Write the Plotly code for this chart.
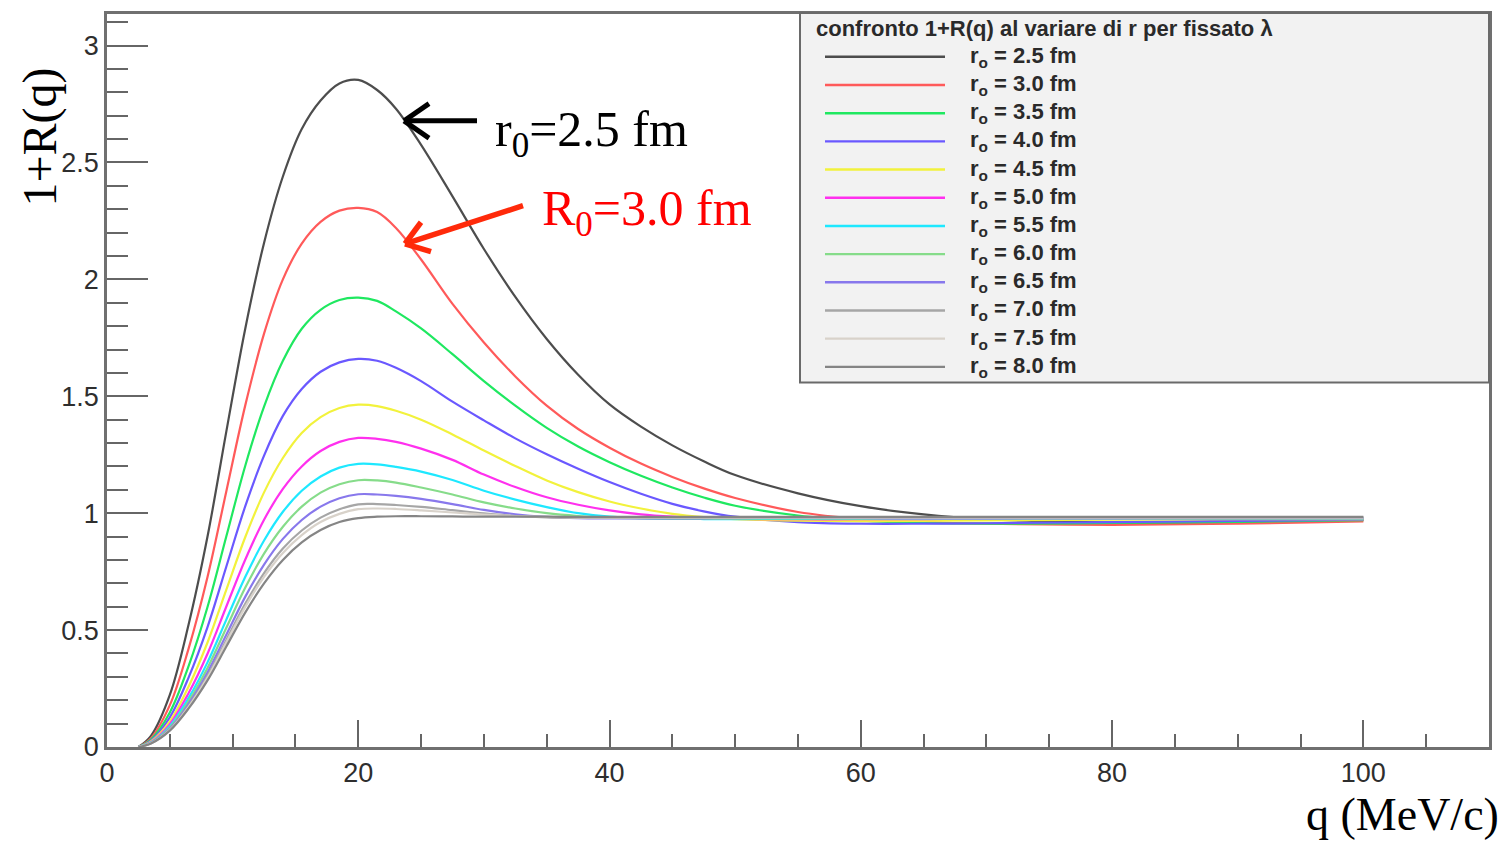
import plotly.graph_objects as go

# ---------------- data ----------------
q = [2.5, 3.5, 5, 6.5, 8, 9.5, 11, 12.5, 14, 15.5, 17, 18.5, 20,
     21.5, 23, 25, 27.5, 30, 32.5, 35, 37.5, 40,
     42.5, 45, 47.5, 50, 55, 60, 65, 70, 80, 90, 100]

r0_labels = ["2.5", "3.0", "3.5", "4.0", "4.5", "5.0", "5.5", "6.0", "6.5", "7.0", "7.5", "8.0"]

r25 = [0, 0.048, 0.223, 0.525, 0.90, 1.35, 1.788, 2.156, 2.44, 2.643, 2.765, 2.838, 2.853,
       2.81, 2.73, 2.575, 2.355, 2.13, 1.925, 1.745, 1.592, 1.465,
       1.37, 1.29, 1.222, 1.163, 1.085, 1.03, 0.995, 0.975, 0.96, 0.96, 0.97]
r30 = [0, 0.038, 0.179, 0.422, 0.727, 1.094, 1.46, 1.768, 2.0, 2.153, 2.246, 2.294, 2.306,
       2.288, 2.22, 2.085, 1.895, 1.73, 1.585, 1.46, 1.36, 1.28,
       1.212, 1.155, 1.106, 1.065, 1.005, 0.975, 0.962, 0.955, 0.95, 0.955, 0.965]
r35 = [0, 0.032, 0.148, 0.347, 0.599, 0.901, 1.202, 1.456, 1.652, 1.789, 1.87, 1.912, 1.922,
       1.908, 1.863, 1.79, 1.68, 1.565, 1.46, 1.365, 1.285, 1.218,
       1.16, 1.11, 1.067, 1.032, 0.99, 0.968, 0.958, 0.955, 0.958, 0.963, 0.97]
r40 = [0, 0.027, 0.127, 0.298, 0.513, 0.772, 1.029, 1.246, 1.416, 1.531, 1.605, 1.645, 1.66,
       1.652, 1.622, 1.565, 1.477, 1.397, 1.32, 1.252, 1.19, 1.133,
       1.083, 1.04, 1.008, 0.985, 0.962, 0.955, 0.955, 0.957, 0.962, 0.967, 0.972]
r45 = [0, 0.024, 0.110, 0.259, 0.447, 0.673, 0.897, 1.089, 1.236, 1.343, 1.411, 1.45, 1.464,
       1.458, 1.438, 1.40, 1.337, 1.268, 1.202, 1.14, 1.09, 1.05,
       1.02, 0.997, 0.983, 0.975, 0.968, 0.966, 0.967, 0.969, 0.972, 0.974, 0.975]
r50 = [0, 0.021, 0.098, 0.231, 0.399, 0.601, 0.801, 0.972, 1.104, 1.2, 1.266, 1.305, 1.322,
       1.318, 1.305, 1.276, 1.228, 1.165, 1.112, 1.068, 1.036, 1.012,
       0.995, 0.985, 0.979, 0.976, 0.974, 0.974, 0.975, 0.976, 0.977, 0.978, 0.978]
r55 = [0, 0.019, 0.089, 0.21, 0.362, 0.545, 0.727, 0.883, 1.006, 1.096, 1.157, 1.195, 1.211,
       1.209, 1.198, 1.178, 1.142, 1.096, 1.058, 1.026, 1.0, 0.985,
       0.979, 0.976, 0.975, 0.975, 0.976, 0.977, 0.978, 0.978, 0.978, 0.978, 0.978]
r60 = [0, 0.018, 0.083, 0.196, 0.338, 0.51, 0.681, 0.827, 0.942, 1.028, 1.088, 1.124, 1.141,
       1.14, 1.131, 1.11, 1.08, 1.046, 1.02, 1.0, 0.988, 0.981,
       0.978, 0.977, 0.977, 0.977, 0.978, 0.978, 0.979, 0.979, 0.979, 0.979, 0.979]
r65 = [0, 0.017, 0.078, 0.185, 0.319, 0.48, 0.642, 0.78, 0.89, 0.971, 1.028, 1.064, 1.081,
       1.08, 1.074, 1.061, 1.039, 1.014, 0.995, 0.984, 0.979, 0.978,
       0.978, 0.978, 0.978, 0.979, 0.98, 0.98, 0.98, 0.98, 0.98, 0.98, 0.98]
r70 = [0, 0.016, 0.075, 0.176, 0.304, 0.458, 0.612, 0.744, 0.849, 0.926, 0.981, 1.017, 1.038,
       1.039, 1.035, 1.027, 1.013, 0.999, 0.988, 0.982, 0.98, 0.98,
       0.98, 0.98, 0.98, 0.98, 0.981, 0.981, 0.981, 0.981, 0.981, 0.981, 0.981]
r75 = [0, 0.0157, 0.073, 0.172, 0.297, 0.448, 0.599, 0.728, 0.83, 0.906, 0.962, 0.997, 1.017,
       1.02, 1.018, 1.012, 1.003, 0.994, 0.988, 0.984, 0.982, 0.982,
       0.982, 0.982, 0.982, 0.982, 0.982, 0.982, 0.982, 0.982, 0.982, 0.982, 0.982]
r80 = [0, 0.015, 0.07, 0.165, 0.285, 0.43, 0.575, 0.70, 0.80, 0.875, 0.928, 0.962, 0.979,
       0.985, 0.987, 0.987, 0.986, 0.985, 0.985, 0.985, 0.984, 0.984,
       0.984, 0.984, 0.984, 0.984, 0.984, 0.984, 0.984, 0.984, 0.984, 0.984, 0.984]

series = [r25, r30, r35, r40, r45, r50, r55, r60, r65, r70, r75, r80]

colors = ["#4d4d4d", "#ff5a5a", "#1fe860", "#6a58ff", "#f2f23c", "#ff30ee",
          "#1ee8ff", "#86dc8a", "#8878ec", "#a6a6a6", "#d8d2ca", "#858585"]

x_ticks = [0, 20, 40, 60, 80, 100]
y_ticks = [0, 0.5, 1, 1.5, 2, 2.5, 3]
y_ticktext = ["0", "0.5", "1", "1.5", "2", "2.5", "3"]

# ---------------- layout geometry ----------------
W, H = 1506, 841
L, R, T, B = 107, 17, 11, 94
PW, PH = W - L - R, H - T - B


def px(x):
    return (x - L) / PW


def py(y):
    return (H - B - y) / PH


fig = go.Figure()
for lab, col, ys in zip(r0_labels, colors, series):
    fig.add_trace(go.Scatter(
        x=q, y=ys, mode="lines", name=lab,
        line=dict(color=col, width=2.2, shape="spline", smoothing=1.0),
        showlegend=False, hoverinfo="skip"))

tickfont = dict(family="Liberation Sans", size=27, color="#2e2e2e")

fig.update_layout(
    width=W, height=H,
    margin=dict(l=L, r=R, t=T, b=B),
    plot_bgcolor="white", paper_bgcolor="white",
    showlegend=False,
)
fig.update_xaxes(
    range=[0, 110], showgrid=False, zeroline=False,
    showline=True, linecolor="#707070", linewidth=2.5, mirror=True,
    ticks="inside", ticklen=27, tickwidth=2, tickcolor="#666666",
    tickmode="array", tickvals=x_ticks, ticktext=[str(v) for v in x_ticks],
    tickfont=tickfont,
    minor=dict(ticks="inside", ticklen=13, tickwidth=2, tickcolor="#666666",
               tickmode="linear", tick0=0, dtick=5, showgrid=False),
)
fig.update_yaxes(
    range=[0, 3.135], showgrid=False, zeroline=False,
    showline=True, linecolor="#707070", linewidth=2.5, mirror=True,
    ticks="inside", ticklen=41, tickwidth=2, tickcolor="#666666",
    tickmode="array", tickvals=y_ticks, ticktext=y_ticktext,
    tickfont=tickfont,
    minor=dict(ticks="inside", ticklen=21, tickwidth=2, tickcolor="#666666",
               tickmode="linear", tick0=0, dtick=0.1, showgrid=False),
)

shapes = []
annotations = []

# legend box
shapes.append(dict(type="rect", xref="paper", yref="paper",
                   x0=px(800), x1=px(1489), y0=py(381), y1=py(10),
                   fillcolor="#f2f2f2", line=dict(color="#6a6a6a", width=2), layer="above"))
annotations.append(dict(xref="paper", yref="paper", x=px(814), y=py(26),
                        xanchor="left", yanchor="middle", showarrow=False,
                        text="<b>confronto 1+R(q) al variare di r per fissato λ</b>",
                        font=dict(family="Liberation Sans", size=22, color="#2a2a2a")))
for i, (lab, col) in enumerate(zip(r0_labels, colors)):
    yy = 54 + i * 28.3
    shapes.append(dict(type="line", xref="paper", yref="paper",
                       x0=px(825), x1=px(945), y0=py(yy), y1=py(yy),
                       line=dict(color=col, width=2.4), layer="above"))
    annotations.append(dict(xref="paper", yref="paper", x=px(968), y=py(yy),
                            xanchor="left", yanchor="middle", showarrow=False,
                            text=f"<b>r<sub>o</sub> = {lab} fm</b>",
                            font=dict(family="Liberation Sans", size=22, color="#2a2a2a")))

# axis titles
annotations.append(dict(xref="paper", yref="paper", x=px(40), y=py(135),
                        xanchor="center", yanchor="middle", showarrow=False, textangle=-90,
                        text="1+R(q)", font=dict(family="Liberation Serif", size=48, color="black")))
annotations.append(dict(xref="paper", yref="paper", x=px(1500), y=py(841),
                        xanchor="right", yanchor="bottom", showarrow=False, borderpad=0,
                        text="q (MeV/c)", font=dict(family="Liberation Serif", size=46, color="black")))


# pointer arrows and labels
def seg(x0, y0, x1, y1, color, width):
    return dict(type="line", xref="paper", yref="paper",
                x0=px(x0), y0=py(y0), x1=px(x1), y1=py(y1),
                line=dict(color=color, width=width), layer="above")


shapes.append(seg(477, 118.3, 407, 118.3, "black", 5))
shapes.append(seg(429, 101, 404, 118.3, "black", 5))
shapes.append(seg(429, 135.6, 404, 118.3, "black", 5))

shapes.append(seg(523, 203.5, 408, 240.8, "#ff2a0a", 5.5))
shapes.append(seg(421, 220.1, 405, 241.7, "#ff2a0a", 5.5))
shapes.append(seg(431, 249.6, 405, 241.7, "#ff2a0a", 5.5))

annotations.append(dict(xref="paper", yref="paper", x=px(493), y=py(130),
                        xanchor="left", yanchor="middle", showarrow=False,
                        text="r<sub>0</sub>=2.5 fm",
                        font=dict(family="Liberation Serif", size=50, color="black")))
annotations.append(dict(xref="paper", yref="paper", x=px(540), y=py(210),
                        xanchor="left", yanchor="middle", showarrow=False,
                        text="R<sub>0</sub>=3.0 fm",
                        font=dict(family="Liberation Serif", size=50, color="#ff0000")))

fig.update_layout(shapes=shapes, annotations=annotations)

fig.write_html("out.html")
